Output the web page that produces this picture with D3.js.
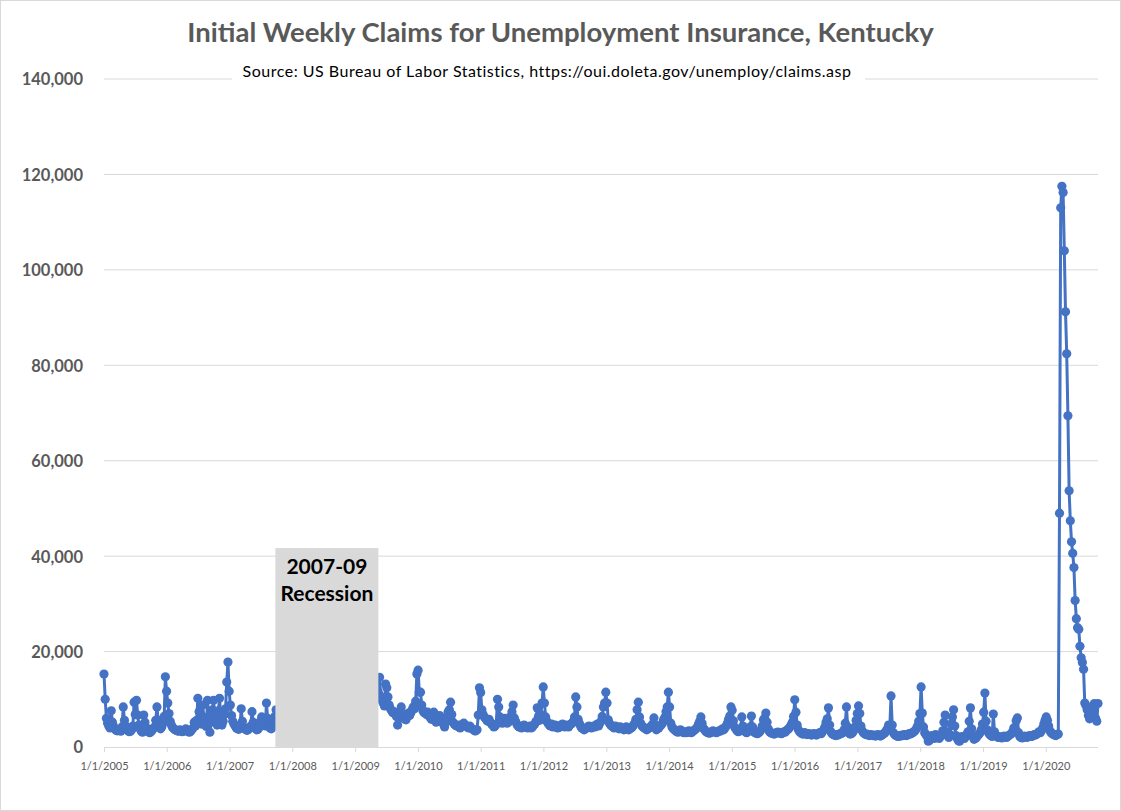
<!DOCTYPE html>
<html>
<head>
<meta charset="utf-8">
<script src="https://cdn.jsdelivr.net/npm/d3@7"></script>
<style>
  body { margin: 0; background: #fff; }
  svg { display: block; font-family: Lato, "Liberation Sans", sans-serif; }
</style>
</head>
<body>
<script>
// weekly initial claims, one array per calendar year (weeks ending Saturday)
var claims2005 = [
  15300,10000,6000,5000,4400,4000,7600,5200,4300,3800,3500,3400,3600,
  3500,3300,4200,8400,5600,4400,3700,3400,3200,3300,3600,4400,9400,
  6800,9800,6700,4600,3800,3300,3100,6700,5200,4100,3500,3200,3000,
  3200,3500,3900,4200,5600,8400,5600,4300,3800,4200,5000,6400,14700,11700];
var claims2006 = [
  9200,7000,5400,4600,4100,3800,3600,3500,3400,3300,3600,3400,3200,
  3300,3500,3800,3400,3200,3100,3300,3600,4000,5200,4400,5600,10200,
  7400,5600,4800,8800,6200,5000,4300,9800,6400,3100,5200,7800,9800,
  6800,5400,4600,7600,10200,6600,4600,5400,6800,8000,13600,17800,11700];
var claims2007 = [
  8800,6600,5400,4800,4400,4000,3800,3700,4200,8000,5400,4200,3800,
  3600,3500,3700,4000,4400,7400,5200,4200,3800,3600,3700,4200,5400,
  6300,5800,4600,4400,9200,6000,4600,4000,3800,4200,5000,6400,7800,
  6400,6000,6600,7200,7800,8400,7600,9000,10400,12000,14200,19600,15400];
var claims2008 = [
  12600,9400,8200,7600,7200,7000,6800,7400,7000,6600,6400,6800,7200,
  7000,6800,7400,8200,7800,7400,7600,8000,8400,9000,10600,13800,15200,
  11600,9400,8800,8400,8200,8600,9000,9400,9800,10400,11200,10800,11600,
  12400,13200,14000,14600,15400,16800,17600,18400,19800,21400,24600,28800,26400];
var claims2009 = [
  30400,24000,21000,19600,18800,18400,19200,18000,17200,16800,16400,15800,15200,
  14800,14200,13600,12800,12400,11800,11400,14600,10600,9800,9200,8600,13200,
  12400,10500,8800,8000,7600,7200,7400,7000,6400,4600,6000,7200,8400,
  7000,6100,5800,5700,6400,7100,6600,7200,7800,8400,8000,9600,15300];
var claims2010 = [
  16100,11500,11500,8800,7600,7200,7300,6800,7300,6600,6200,5800,6400,
  7300,6800,5200,5600,6100,6600,5800,5400,4800,4200,5200,6200,7400,
  7800,9400,6800,5200,4800,4600,4400,4600,4200,4000,4400,4800,5000,
  4600,4400,4200,4000,4400,4000,3800,3600,3400,3400,3600,6700,12400];
var claims2011 = [
  11400,7800,6800,6300,6000,5600,5400,5800,5200,4800,4600,4200,4400,
  4800,10000,8400,6300,5600,5000,5400,6000,5400,5000,5200,5800,6400,
  7400,8800,6100,5400,4800,4400,4200,4300,4000,4200,4600,4400,4200,
  4000,4200,4400,4000,4200,4600,4800,5400,8200,6400,5600,6800,9200,12600];
var claims2012 = [
  9200,6300,5400,5000,4600,4400,4800,4200,4400,4600,4200,4000,4400,
  4200,4600,4800,4400,4200,4600,4400,4200,4600,4800,5000,5400,6300,
  10500,8400,5800,5000,4400,4000,3800,3600,3800,4000,4200,4400,4200,
  4000,4200,4400,4200,4600,4800,4400,5000,5400,6400,8400,9200,11500];
var claims2013 = [
  9200,5700,5000,4600,4400,4200,4000,4400,4200,4000,3800,4200,4000,
  3800,3600,4000,4200,3800,3600,3800,4000,4200,4600,5000,5800,7800,
  9400,6300,5000,4400,4200,4000,3800,3600,3800,4000,4200,4400,4800,
  6100,4600,3600,3800,4000,4400,4600,5000,5700,6200,7400,8400,11500];
var claims2014 = [
  8400,5000,4200,3800,3600,3400,3200,3100,3400,3600,3300,3100,3000,
  3200,3000,3200,3400,3100,3000,3200,3400,3600,3800,4200,4800,5400,
  6300,5000,4000,3600,3300,3100,3000,2900,3000,3200,3400,3200,3100,
  3000,3200,3400,3300,3500,3800,3600,4000,4400,5000,5800,6500,8400];
var claims2015 = [
  7700,5500,4200,3800,3400,3200,3600,3400,6300,4400,3400,3200,3000,
  3200,3400,4200,6500,4200,3200,3000,2900,2800,3000,3200,3600,4400,
  5700,6100,7100,5200,3800,3200,3000,2900,2800,2700,2900,3000,3100,
  3000,2900,2800,3000,3200,3100,3400,3600,3800,4200,4600,5200,6400];
var claims2016 = [
  9900,7300,4600,3600,3200,3000,2800,2700,3000,2900,2600,2700,2800,
  2600,2500,2700,2800,2600,2500,2700,2900,3000,2800,3200,3600,4200,
  5200,5900,8200,4600,3200,2800,2600,2500,2400,2600,2500,2700,2800,
  2900,3000,3600,5000,8400,4200,3000,2700,2800,3000,3400,4200,5600,7000];
var claims2017 = [
  8600,7000,4400,3400,3000,2800,2600,2700,2500,2400,2600,2500,2400,
  2500,2300,2400,2600,2500,2300,2400,2600,2800,3000,3400,3800,4600,
  4200,10700,4600,3000,2600,2400,2300,2200,2400,2300,2500,2400,2600,
  2500,2400,2600,2800,2700,2900,3000,3200,3400,3800,4400,5400,7000];
var claims2018 = [
  12600,7100,4200,3000,2600,2200,1200,1400,2000,2400,2200,1800,2600,
  2400,2000,1800,2200,2600,3400,5200,6700,3200,2400,2000,2600,4800,
  6300,7800,4400,2400,1800,1300,1200,1800,2200,2000,1800,2200,2600,
  3200,5400,8200,3800,2200,1600,1800,2000,2400,2600,3000,3600,4800];
var claims2019 = [
  7300,11300,5400,3600,3000,2600,2400,2200,6900,3200,2400,2200,2000,
  2200,2000,1900,2100,2300,2100,2000,2200,2400,2600,2800,3200,4000,
  3800,5500,6100,3000,2200,2000,1900,2100,2300,2200,2000,2200,2400,
  2300,2200,2400,2600,2500,2700,2900,3200,3000,3400,4000,4800,5600];
var claims2020 = [
  6300,5600,4400,3400,3000,2800,2600,2500,2400,2600,2700,
  49000,113000,117500,116200,104000,91200,82400,69400,53700,47400,43000,40600,37600,
  30700,26900,25000,24700,21100,18700,17700,16300,9200,8700,7800,6600,5900,6400,
  7200,8200,9100,6000,5400,9100];

var years = [2005,2006,2007,2008,2009,2010,2011,2012,2013,2014,2015,2016,2017,2018,2019,2020];
var yearly = [claims2005,claims2006,claims2007,claims2008,claims2009,claims2010,claims2011,claims2012,
              claims2013,claims2014,claims2015,claims2016,claims2017,claims2018,claims2019,claims2020];

var yTicks = [0,20000,40000,60000,80000,100000,120000,140000];

var recessionDates = [new Date(2007,8,25), new Date(2009,4,16)];
var recessionTop = 41700;
var recessionLabel = ['2007-09','Recession'];

var titleText = 'Initial Weekly Claims for Unemployment Insurance, Kentucky';
var sourceText = 'Source: US Bureau of Labor Statistics, https://oui.doleta.gov/unemploy/claims.asp';

// pair each year's values with the Saturdays of that year
var data = [];
years.forEach(function(yr, k) {
    var sats = d3.timeSaturday.range(new Date(yr,0,1), new Date(yr+1,0,1));
    var vals = yearly[k];
    for (var i = 0; i < Math.min(sats.length, vals.length); i++) {
        data.push({date: sats[i], value: vals[i]});
    }
});

var W = 1121, H = 811;
var margin = {top: 79, right: 23, bottom: 64, left: 104};

var svg = d3.select("body").append("svg")
    .attr("width", W)
    .attr("height", H);

svg.append("rect")
    .attr("x", 0.5).attr("y", 0.5)
    .attr("width", W - 1).attr("height", H - 1)
    .style("fill", "#fff")
    .style("stroke", "#d9d9d9");

var x = d3.scaleTime()
    .domain(d3.extent(data, function(d) { return d.date; }))
    .range([margin.left, W - margin.right]);
var y = d3.scaleLinear()
    .domain([0, 140000])
    .range([H - margin.bottom, margin.top]);

// gridlines
svg.append("g")
  .selectAll("line")
  .data(yTicks.slice(1))
  .enter().append("line")
    .attr("x1", x.range()[0]).attr("x2", x.range()[1])
    .attr("y1", function(d) { return y(d); })
    .attr("y2", function(d) { return y(d); })
    .style("stroke", "#d9d9d9")
    .style("stroke-width", "1px");

// y labels
var yAxis = svg.append("g")
    .attr("transform", "translate(" + (margin.left - 21) + ",0)")
    .call(d3.axisLeft(y).tickValues(yTicks).tickSize(0).tickPadding(0).tickFormat(d3.format(",")));
yAxis.select(".domain").remove();
yAxis.selectAll("text")
    .attr("dy", "0.36em")
    .style("font-family", "Lato, sans-serif")
    .style("font-size", "16.5px")
    .style("font-weight", "bold")
    .style("fill", "#595959");

// x axis
var xTicks = d3.timeYear.range(new Date(2005,0,1), x.domain()[1]);
var xAxis = svg.append("g")
    .attr("transform", "translate(0," + y(0) + ")")
    .call(d3.axisBottom(x).tickValues(xTicks).tickSize(5).tickPadding(10).tickFormat(d3.timeFormat("%-m/%-d/%Y")));
xAxis.select(".domain").style("stroke", "#d9d9d9").attr("d", "M" + x.range()[0] + ",0.5H" + x.range()[1]);
xAxis.selectAll(".tick line").style("stroke", "#d9d9d9");
xAxis.selectAll("text")
    .style("font-family", "Lato, sans-serif")
    .style("font-size", "11px")
    .style("fill", "#595959");

// series
var valueline = d3.line()
    .x(function(d) { return x(d.date); })
    .y(function(d) { return y(d.value); });

svg.append("path")
    .datum(data)
    .attr("d", valueline)
    .style("fill", "none")
    .style("stroke", "#4472C4")
    .style("stroke-width", "3px")
    .style("stroke-linejoin", "round");

svg.append("g")
  .selectAll("circle")
  .data(data)
  .enter().append("circle")
    .attr("cx", function(d) { return x(d.date); })
    .attr("cy", function(d) { return y(d.value); })
    .attr("r", 4.6)
    .style("fill", "#4472C4");

// recession box sits over the line, like the drawn shape in the original
var rx0 = x(recessionDates[0]), rx1 = x(recessionDates[1]);
svg.append("rect")
    .attr("x", rx0)
    .attr("y", y(recessionTop))
    .attr("width", rx1 - rx0)
    .attr("height", y(0) - y(recessionTop))
    .style("fill", "#d9d9d9");

svg.append("g")
  .selectAll("text")
  .data(recessionLabel)
  .enter().append("text")
    .attr("x", (rx0 + rx1) / 2)
    .attr("y", function(d, i) { return y(recessionTop) + 26 + i * 27; })
    .attr("text-anchor", "middle")
    .style("font-size", "21px")
    .style("font-weight", "bold")
    .style("fill", "#000")
    .text(function(d) { return d; });

// title and source line
svg.append("text")
    .attr("x", W / 2)
    .attr("y", 42)
    .attr("text-anchor", "middle")
    .style("font-size", "27.5px")
    .style("font-weight", "bold")
    .style("fill", "#595959")
    .text(titleText);

svg.append("rect")
    .attr("x", 232).attr("y", 61)
    .attr("width", 633).attr("height", 24)
    .style("fill", "#fff");

svg.append("text")
    .attr("x", 547)
    .attr("y", 77)
    .attr("text-anchor", "middle")
    .style("font-size", "16px")
    .style("letter-spacing", "0.5px")
    .style("fill", "#000")
    .text(sourceText);
</script>
</body>
</html>
